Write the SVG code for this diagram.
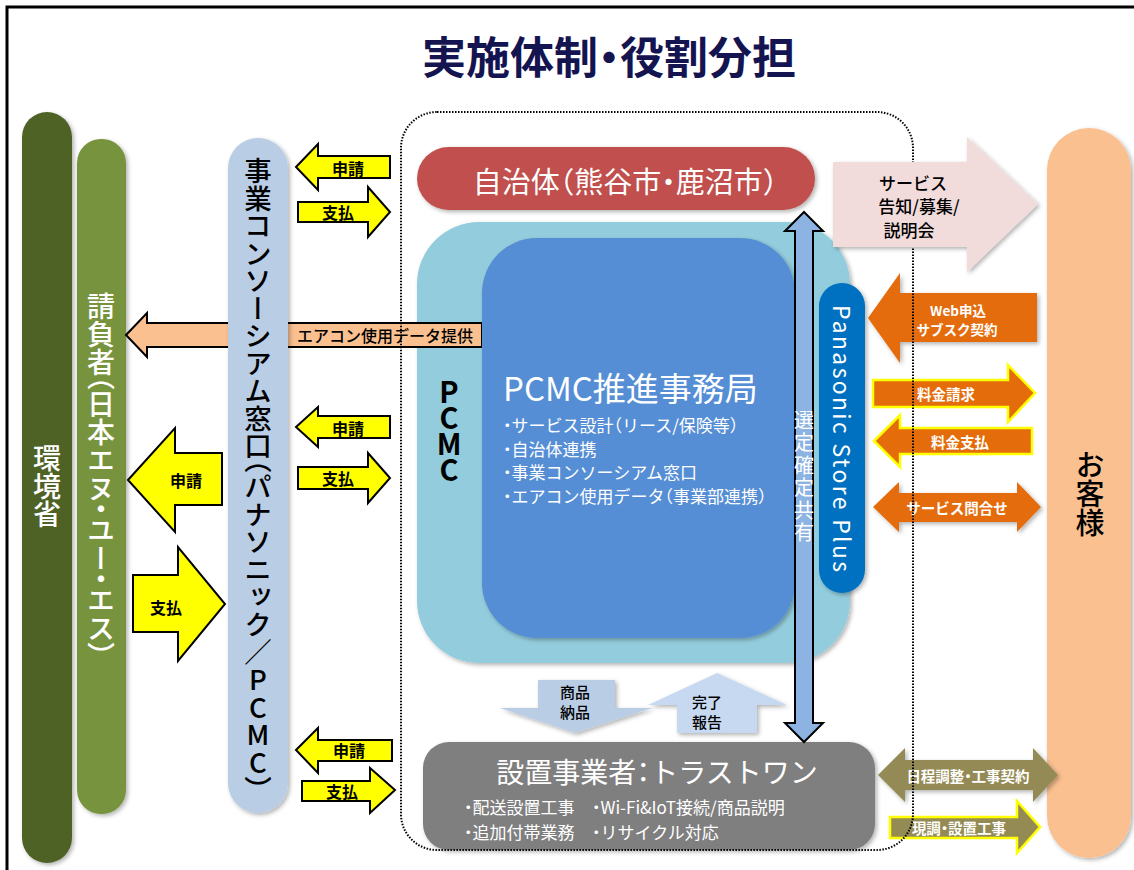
<svg xmlns="http://www.w3.org/2000/svg" width="1134" height="870" viewBox="0 0 1134 870">
<defs>
<filter id="sh" x="-20%" y="-20%" width="140%" height="140%"><feDropShadow dx="2" dy="2" stdDeviation="2" flood-color="#000" flood-opacity="0.3"/></filter>
</defs>
<style>
text{font-family:"Noto Sans CJK JP","Noto Sans",sans-serif;dominant-baseline:central}
.c{text-anchor:middle}
.v{writing-mode:vertical-rl}
.up{text-orientation:upright}
.h{font-feature-settings:"halt" 1}
.vh{font-feature-settings:"vhal" 1}
.yl{fill:#ffff00;stroke:#000;stroke-width:2;stroke-linejoin:miter}
.yt{font-size:16px;font-weight:700;fill:#000}
.ot{font-size:14.5px;font-weight:700;fill:#fff}
.or{fill:#e46c0a}
.oly{fill:#948a54}
.ys{stroke:#ffff00;stroke-width:2.5}
.w{fill:#fff}
</style>
<rect width="1134" height="870" fill="#fff"/>
<path d="M7,870 V7 H1134" fill="none" stroke="#000" stroke-width="3"/>
<text class="c h" x="609" y="55" font-size="44" font-weight="700" fill="#141450">実施体制・役割分担</text>

<g id="kankyosho">
<rect x="22" y="112" width="50" height="751" rx="25" fill="#4f6228" filter="url(#sh)"/>
<text class="v w" x="47" y="444" font-size="28" font-weight="500">環境省</text>
</g>
<g id="ukeoi">
<rect x="77" y="139" width="49" height="675" rx="24" fill="#77933c" filter="url(#sh)"/>
<text class="v w" x="101" y="292" font-size="28" font-weight="500">請負者<tspan class="vh">（</tspan>日本エヌ<tspan class="vh">・</tspan>ユー<tspan class="vh">・</tspan>エス<tspan class="vh">）</tspan></text>
</g>

<g id="pcmc">
<rect x="417" y="222" width="433" height="441" rx="62" fill="#93cddd" filter="url(#sh)"/>
<text class="v up" x="449" y="377" font-size="29" font-weight="700" letter-spacing="-3" fill="#000">PCMC</text>
</g>

<g id="connectors">
<polygon points="126,335 147,313 147,323 482,323 482,347 147,347 147,357" fill="#fac090" stroke="#000" stroke-width="2"/>
<text class="c" x="385" y="335" font-size="16" font-weight="500" fill="#000">エアコン使用データ提供</text>
</g>

<g id="consortium">
<rect x="228" y="138" width="60" height="675" rx="30" fill="#b9cde5" filter="url(#sh)"/>
<text class="v" x="258" y="157" font-size="27.5" font-weight="500" fill="#000">事業コンソーシアム窓口<tspan class="vh">（</tspan>パナソニック／<tspan class="up">PCMC</tspan><tspan class="vh">）</tspan></text>
</g>

<g id="jimukyoku">
<rect x="482" y="238" width="313" height="400" rx="55" fill="#558ed5" filter="url(#sh)"/>
<text class="w"><tspan x="503" y="387" font-size="33">PCMC推進事務局</tspan><tspan class="h" x="503" y="424" font-size="17">・サービス設計（リース/保険等）</tspan><tspan class="h" x="503" y="447.5" font-size="17">・自治体連携</tspan><tspan class="h" x="503" y="471" font-size="17">・事業コンソーシアム窓口</tspan><tspan class="h" x="503" y="494.5" font-size="17">・エアコン使用データ（事業部連携）</tspan></text>
</g>

<g id="jichitai">
<rect x="417" y="147" width="398" height="63" rx="31.5" fill="#c0504d" filter="url(#sh)"/>
<text class="c w h" x="625" y="180" font-size="29">自治体（熊谷市・鹿沼市）</text>
</g>

<g id="panasonic">
<rect x="819" y="283" width="46" height="310" rx="23" fill="#0070c0" filter="url(#sh)"/>
<text class="w" transform="translate(843,305) rotate(90)" font-size="23" textLength="267" lengthAdjust="spacing">Panasonic Store Plus</text>
</g>

<g id="settsu">
<rect x="423" y="742" width="452" height="108" rx="26" fill="#7f7f7f" filter="url(#sh)"/>
<text class="w h"><tspan class="c" x="657" y="771" font-size="28">設置事業者：トラストワン</tspan><tspan font-size="17" x="464" y="806">・配送設置工事</tspan><tspan font-size="17" x="592" y="806">・Wi-Fi&amp;IoT接続/商品説明</tspan><tspan font-size="17" x="464" y="831">・追加付帯業務</tspan><tspan font-size="17" x="592" y="831">・リサイクル対応</tspan></text>
</g>

<g id="okyakusama">
<rect x="1047" y="128" width="84" height="730" rx="42" fill="#fac090" filter="url(#sh)"/>
<text class="v" x="1090" y="450" font-size="29" font-weight="500" fill="#000">お客様</text>
</g>

<g id="arrows">
<polygon class="yl" points="296,167 318,144 318,156 390,156 390,178 318,178 318,190"/>
<text class="c yt" x="348" y="168">申請</text>
<polygon class="yl" points="298,202 368,202 368,187 390,212 368,237 368,222 298,222"/>
<text class="c yt" x="338" y="212">支払</text>
<polygon class="yl" points="296,427 318,407 318,416 390,416 390,438 318,438 318,447"/>
<text class="c yt" x="348" y="428">申請</text>
<polygon class="yl" points="298,467 368,467 368,453 390,478 368,503 368,489 298,489"/>
<text class="c yt" x="338" y="478">支払</text>
<polygon class="yl" points="296,750 318,728 318,740 392,740 392,761 318,761 318,773"/>
<text class="c yt" x="349" y="750">申請</text>
<polygon class="yl" points="302,781 370,781 370,768 395,790 370,813 370,801 302,801"/>
<text class="c yt" x="342" y="791">支払</text>
<polygon class="yl" points="128,480 175,428 175,453 222,453 222,505 175,505 175,532"/>
<text class="c yt" x="186" y="480" font-size="17">申請</text>
<polygon class="yl" points="133,575 178,575 178,547 225,604 178,661 178,632 133,632"/>
<text class="c yt" x="166" y="607" font-size="17">支払</text>

<polygon points="804,212 823,231 813,231 813,723 823,723 804,742 785,723 795,723 795,231 785,231" fill="#8db3e2" stroke="#000" stroke-width="2"/>
<text class="v w" x="804" y="410" font-size="20" letter-spacing="2.5">選定確定共有</text>

<polygon points="538,680 615,680 615,708 652,708 575,733 500,708 538,708" fill="#b9cde5" filter="url(#sh)"/>
<text class="c" font-size="15" font-weight="500"><tspan x="575" y="691">商品</tspan><tspan x="575" y="711">納品</tspan></text>
<polygon points="717,673 787,705 757,705 757,733 677,733 677,705 648,705" fill="#c6d9f1" filter="url(#sh)"/>
<text class="c" font-size="15" font-weight="500"><tspan x="707" y="701">完了</tspan><tspan x="707" y="721">報告</tspan></text>

<polygon class="or" points="868,318 900,273 900,293 1037,293 1037,342 900,342 900,363" filter="url(#sh)"/>
<text class="c ot" font-size="13.5"><tspan x="958" y="310" font-size="13.5">Web申込</tspan><tspan x="957" y="329" font-size="13.5">サブスク契約</tspan></text>
<polygon class="or ys" points="873,380 1008,380 1008,365 1035,393 1008,422 1008,407 873,407"/>
<text class="c ot" x="946" y="393">料金請求</text>
<polygon class="or ys" points="874,441 900,415 900,428 1032,428 1032,454 900,454 900,467"/>
<text class="c ot" x="960" y="441">料金支払</text>
<polygon class="or" points="873,507 899,482 899,493 1017,493 1017,482 1041,507 1017,532 1017,522 899,522 899,532" filter="url(#sh)"/>
<text class="c ot" x="957" y="507">サービス問合せ</text>
<polygon class="oly" points="878,775 905,748 905,760 1033,760 1033,748 1058,775 1033,802 1033,790 905,790 905,802" filter="url(#sh)"/>
<text class="c ot h" x="968" y="775">日程調整・工事契約</text>
<polygon class="oly ys" points="890,817 1017,817 1017,801 1040,827 1017,853 1017,838 890,838"/>
<text class="c ot h" x="959" y="827">現調・設置工事</text>
</g>

<g id="boundary">
<rect x="401" y="112" width="512" height="738" rx="36" fill="none" stroke="#000" stroke-width="2" stroke-dasharray="1.5 1.5"/>
</g>

<g id="service">
<polygon points="833,162 967,162 967,137 1038,204 967,272 967,247 833,247" fill="#f2dcdb" filter="url(#sh)"/>
<text class="c" font-size="17" font-weight="500"><tspan x="913" y="181.5">サービス</tspan><tspan x="919" y="205">告知/募集/</tspan><tspan x="909" y="228.5">説明会</tspan></text>
</g>
</svg>
